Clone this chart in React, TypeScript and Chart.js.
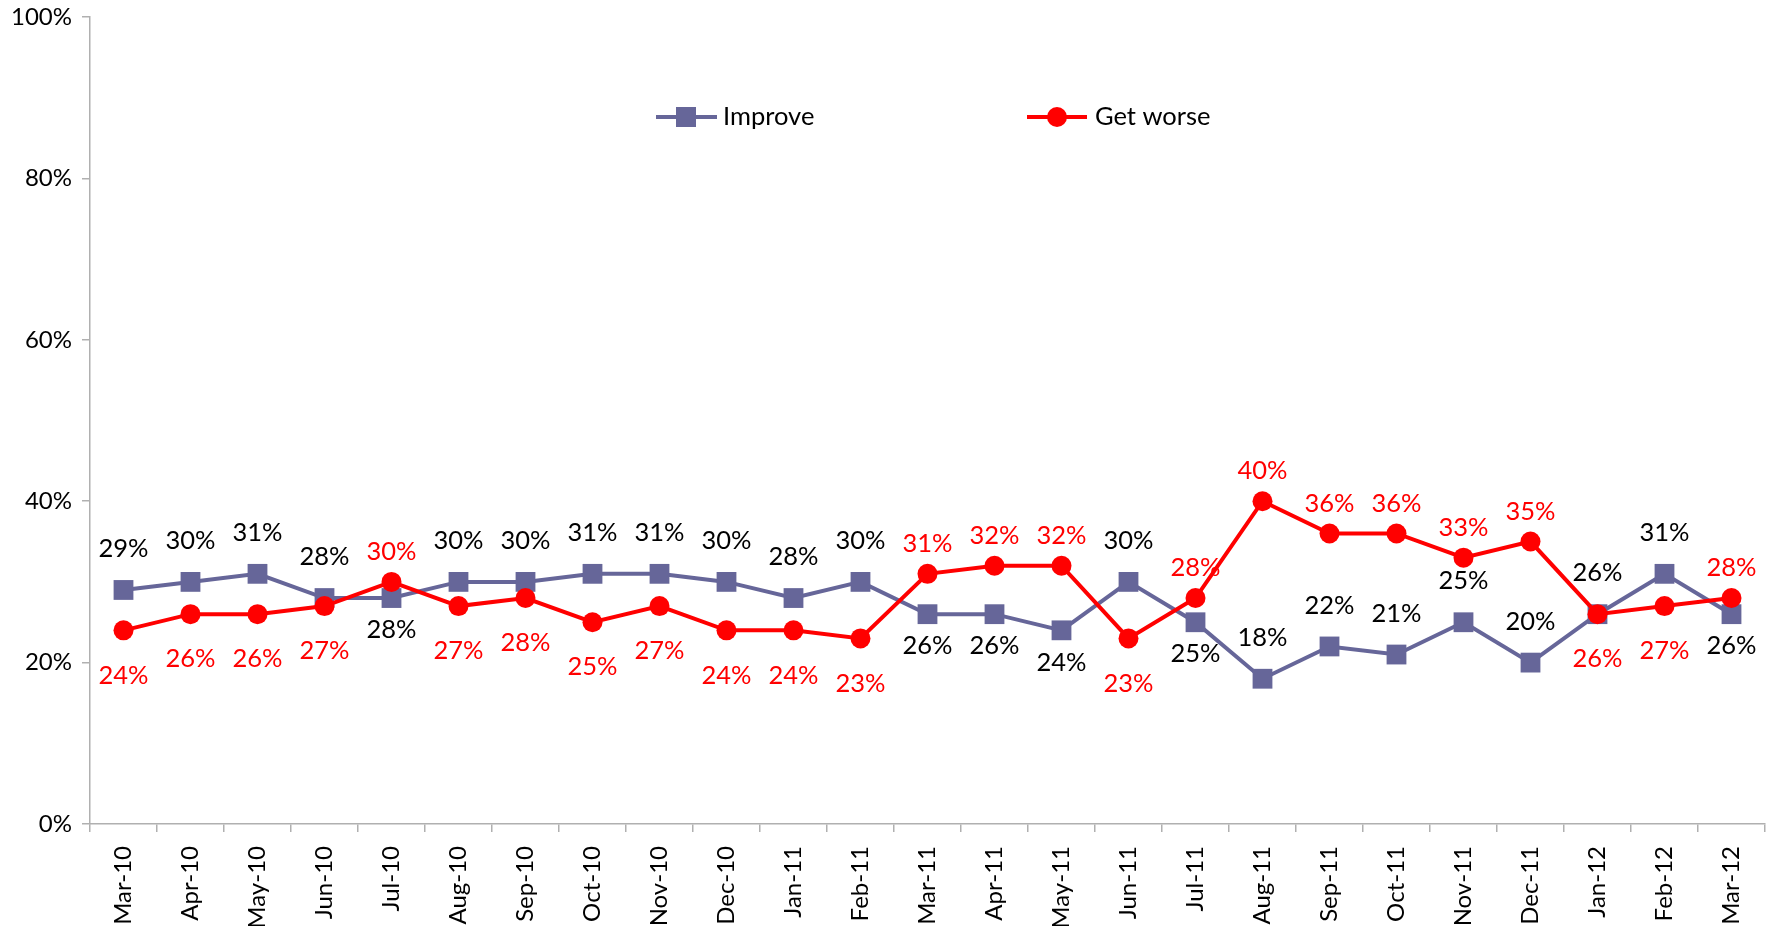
import React, { useEffect, useRef } from "react";
import { Chart, registerables } from "chart.js";

Chart.register(...registerables);

const categories = [
  "Mar-10", "Apr-10", "May-10", "Jun-10", "Jul-10", "Aug-10", "Sep-10", "Oct-10", "Nov-10", "Dec-10",
  "Jan-11", "Feb-11", "Mar-11", "Apr-11", "May-11", "Jun-11", "Jul-11", "Aug-11", "Sep-11", "Oct-11",
  "Nov-11", "Dec-11", "Jan-12", "Feb-12", "Mar-12",
];

const improveValues = [29, 30, 31, 28, 28, 30, 30, 31, 31, 30, 28, 30, 26, 26, 24, 30, 25, 18, 22, 21, 25, 20, 26, 31, 26];
const worseValues = [24, 26, 26, 27, 30, 27, 28, 25, 27, 24, 24, 23, 31, 32, 32, 23, 28, 40, 36, 36, 33, 35, 26, 27, 28];

const yTicks = [0, 20, 40, 60, 80, 100];

// label placement: a = above the point, b = below the point
const improvePlace = ("aaaa" + "b" + "aaaaaaa" + "bbb" + "a" + "b" + "aaaaaaa" + "b").split("");
const worsePlace = ("bbbb" + "a" + "bbbbbbb" + "aaa" + "b" + "aaaaaa" + "bb" + "a").split("");

const FONT = 'Lato, "Liberation Sans", sans-serif';
const IMPROVE_COLOR = "#666699";
const WORSE_COLOR = "#FF0000";

const labelPlugin = {
  id: "pointLabels",
  afterDatasetsDraw(chart: any) {
    const ctx = chart.ctx;
    ctx.save();
    ctx.font = `25.5px ${FONT}`;
    ctx.textAlign = "center";
    ctx.textBaseline = "middle";
    chart.data.datasets.forEach((ds: any, di: number) => {
      const meta = chart.getDatasetMeta(di);
      const isImprove = ds.label === "Improve";
      const place = isImprove ? improvePlace : worsePlace;
      ctx.fillStyle = isImprove ? "#000000" : WORSE_COLOR;
      meta.data.forEach((pt: any, i: number) => {
        const above = place[i] === "a";
        const off = isImprove ? (above ? -41 : 32) : (above ? -30 : 45);
        ctx.fillText(ds.data[i] + "%", pt.x, pt.y + off);
      });
    });
    ctx.restore();
  },
};

const legendPlugin = {
  id: "customLegend",
  afterDraw(chart: any) {
    const ctx = chart.ctx;
    ctx.save();
    const y = 117;
    // Improve
    ctx.strokeStyle = IMPROVE_COLOR;
    ctx.lineWidth = 4;
    ctx.beginPath();
    ctx.moveTo(656, y);
    ctx.lineTo(717, y);
    ctx.stroke();
    ctx.fillStyle = IMPROVE_COLOR;
    ctx.fillRect(686 - 10, y - 10, 20, 20);
    // Get worse
    ctx.strokeStyle = WORSE_COLOR;
    ctx.beginPath();
    ctx.moveTo(1027, y);
    ctx.lineTo(1087, y);
    ctx.stroke();
    ctx.fillStyle = WORSE_COLOR;
    ctx.beginPath();
    ctx.arc(1057, y, 10, 0, Math.PI * 2);
    ctx.fill();
    ctx.font = `25.5px ${FONT}`;
    ctx.textBaseline = "middle";
    ctx.textAlign = "left";
    ctx.fillStyle = "#000000";
    ctx.fillText("Improve", 723, y);
    ctx.fillText("Get worse", 1095, y);
    ctx.restore();
  },
};

export default function App() {
  const ref = useRef<HTMLCanvasElement>(null);
  useEffect(() => {
    if (!ref.current) return;
    const chart = new Chart(ref.current, {
      type: "line",
      data: {
        labels: categories,
        datasets: [
          {
            label: "Improve",
            data: improveValues,
            borderColor: IMPROVE_COLOR,
            backgroundColor: IMPROVE_COLOR,
            borderWidth: 4,
            pointStyle: "rect",
            pointRadius: 14,
            pointBorderWidth: 0,
            pointHoverRadius: 14,
            tension: 0,
            order: 1,
          },
          {
            label: "Get worse",
            data: worseValues,
            borderColor: WORSE_COLOR,
            backgroundColor: WORSE_COLOR,
            borderWidth: 4,
            pointStyle: "circle",
            pointRadius: 10,
            pointBorderWidth: 0,
            pointHoverRadius: 10,
            tension: 0,
            order: 0,
          },
        ],
      },
      options: {
        responsive: false,
        animation: false,
        layout: { padding: { top: 17, right: 9, left: 0, bottom: 0 } },
        plugins: {
          legend: { display: false },
          tooltip: { enabled: false },
          title: { display: false },
        },
        scales: {
          x: {
            offset: true,
            grid: {
              offset: true,
              drawOnChartArea: false,
              drawTicks: true,
              tickLength: 8,
              color: "#B0B0B0",
              lineWidth: 1.5,
            },
            border: { color: "#B0B0B0", width: 1.5 },
            ticks: {
              color: "#000000",
              font: { family: FONT, size: 24 },
              maxRotation: 90,
              minRotation: 90,
              autoSkip: false,
              padding: 14,
            },
            afterFit: (s: any) => {
              s.height = 926 - 824;
            },
          },
          y: {
            min: 0,
            max: 100,
            afterBuildTicks: (s: any) => {
              s.ticks = yTicks.map((v) => ({ value: v }));
            },
            grid: {
              drawOnChartArea: false,
              drawTicks: true,
              tickLength: 8,
              color: "#B0B0B0",
              lineWidth: 1.5,
            },
            border: { color: "#B0B0B0", width: 1.5 },
            ticks: {
              color: "#000000",
              font: { family: FONT, size: 24, lineHeight: 0.5 },
              padding: 10,
              callback: (v: any) => v + "%",
            },
            afterFit: (s: any) => {
              s.width = 90;
            },
          },
        },
      },
      plugins: [labelPlugin, legendPlugin],
    });
    return () => chart.destroy();
  }, []);
  return (
    <div style={{ position: "fixed", left: 0, top: 0, width: 1779, height: 926, background: "#fff" }}>
      <canvas ref={ref} width={1779} height={926} style={{ display: "block" }} />
    </div>
  );
}
